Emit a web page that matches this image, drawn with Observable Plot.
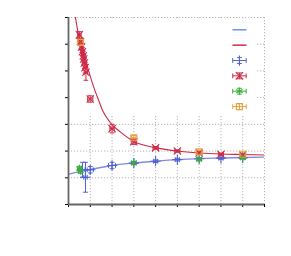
<!DOCTYPE html>
<html><head><meta charset="utf-8">
<script src="https://cdn.jsdelivr.net/npm/d3@7"></script>
<script src="https://cdn.jsdelivr.net/npm/@observablehq/plot@0.6"></script>
<style>html,body{margin:0;padding:0;background:#fff;overflow:hidden}</style>
</head><body><div id="chart"></div>
<script>
// ---- tick values (labels are blank in the reference) ----
const xTicks = [0,1,2,3,4,5,6,7,8,9];
const yTicks = [0,1,2,3,4,5,6,7];

// ---- fitted curves ----
const blueFitX = [0, 0.5, 1.0, 2.0, 3.0, 4.0, 5.0, 6.0, 7.0, 8.0, 9.0];
const blueFitY = [1.13, 1.23, 1.31, 1.46, 1.55, 1.62, 1.68, 1.72, 1.74, 1.76, 1.77];
const redFitX = [0.31, 0.46, 0.64, 0.83, 1.01, 1.19, 1.38, 1.56, 1.93, 2.39, 3.03, 4.04, 5.0, 6.01, 7.02, 8.03, 9.0];
const redFitY = [7.05, 6.35, 5.79, 5.26, 4.77, 4.32, 3.91, 3.53, 3.05, 2.71, 2.35, 2.12, 2.0, 1.93, 1.89, 1.87, 1.85];

// ---- measured series ----
const blueX  = [0.64, 0.78, 1.0, 2.0, 3.0, 4.0, 5.0, 6.0, 7.0, 8.0];
const blueY  = [1.30, 1.02, 1.30, 1.46, 1.55, 1.62, 1.68, 1.71, 1.73, 1.75];
const blueXE = [0.12, 0.08, 0.14, 0.16, 0.1, 0.1, 0.1, 0.1, 0.1, 0.1];
const blueYE = [0.28, 0.56, 0.12, 0.12, 0.05, 0.05, 0.05, 0.04, 0.04, 0.04];

const redX  = [0.5, 0.55, 0.6, 0.64, 0.68, 0.7, 0.73, 0.76, 0.8, 1.0, 2.0, 3.0, 4.0, 5.0, 6.0, 7.0, 8.0];
const redY  = [6.35, 6.1, 5.9, 5.72, 5.57, 5.45, 5.3, 5.12, 4.95, 3.95, 2.84, 2.35, 2.12, 2.0, 1.93, 1.88, 1.85];
const redXE = [0.08, 0.08, 0.08, 0.08, 0.08, 0.08, 0.08, 0.08, 0.08, 0.12, 0.1, 0.12, 0.12, 0.12, 0.12, 0.12, 0.12];
const redYE = [0.12, 0.12, 0.12, 0.15, 0.15, 0.15, 0.2, 0.2, 0.3, 0.12, 0.16, 0.1, 0.05, 0.04, 0.04, 0.04, 0.04];

const greenX  = [0.5, 0.55, 3.0, 6.0, 8.0];
const greenY  = [1.35, 1.25, 1.56, 1.69, 1.75];
const greenXE = [0.08, 0.08, 0.1, 0.1, 0.1];
const greenYE = [0.08, 0.08, 0.04, 0.05, 0.05];

const orangeX  = [0.55, 3.0, 6.0, 8.0];
const orangeY  = [6.07, 2.50, 1.97, 1.88];
const orangeXE = [0.08, 0.1, 0.1, 0.1];
const orangeYE = [0.08, 0.08, 0.06, 0.05];

// ---- styles ----
const BLUE = "#5062d4", BLUE_LINE = "#7d8ce2", RED = "#cc2a48", GREEN = "#38b038", ORANGE = "#e6a040";

const series = [
  {name: "blue",   color: BLUE,   symbol: "plus",     xs: blueX,   ys: blueY,   xe: blueXE,   ye: blueYE},
  {name: "red",    color: RED,    symbol: "times",    xs: redX,    ys: redY,    xe: redXE,    ye: redYE},
  {name: "green",  color: GREEN,  symbol: "asterisk", xs: greenX,  ys: greenY,  xe: greenXE,  ye: greenYE},
  {name: "orange", color: ORANGE, symbol: "square",   xs: orangeX, ys: orangeY, xe: orangeXE, ye: orangeYE}
];

const pts = series.flatMap(s => s.xs.map((x, i) => ({name: s.name, color: s.color, symbol: s.symbol, x, y: s.ys[i], xe: s.xe[i], ye: s.ye[i]})));
const blueFit = blueFitX.map((x, i) => ({x, y: blueFitY[i]}));
const redFit = redFitX.map((x, i) => ({x, y: redFitY[i]}));

// legend layout (in data units, inside the opaque key box)
const keyBox = {x1: 0, x2: 8.59, y1: 3.35, y2: 6.88};
const keyX1 = 7.53, keyX2 = 8.17, keyXc = 7.85, keyTop = 6.54, keyStep = 0.575;
const keyLines = [{color: BLUE_LINE, y: keyTop}, {color: RED, y: keyTop - keyStep}];
const keyPts = series.map((s, i) => ({color: s.color, symbol: s.symbol, x: keyXc, y: keyTop - (i + 2) * keyStep, xe: 0.31, ye: 0.11}));

const hcap = {draw(ctx, size) { const r = Math.sqrt(size / Math.PI); ctx.moveTo(-r, 0); ctx.lineTo(r, 0); }};
const vcap = {draw(ctx, size) { const r = Math.sqrt(size / Math.PI); ctx.moveTo(0, -r); ctx.lineTo(0, r); }};

function errMarks(data) {
  const sw = 1;
  return [
    Plot.link(data, {x1: d => d.x - d.xe, x2: d => d.x + d.xe, y1: "y", y2: "y", stroke: "color", strokeWidth: sw}),
    Plot.link(data, {x1: "x", x2: "x", y1: d => d.y - d.ye, y2: d => d.y + d.ye, stroke: "color", strokeWidth: sw}),
    Plot.dot(data, {x: "x", y: d => d.y - d.ye, symbol: hcap, r: 2.4, stroke: "color", strokeWidth: sw}),
    Plot.dot(data, {x: "x", y: d => d.y + d.ye, symbol: hcap, r: 2.4, stroke: "color", strokeWidth: sw}),
    Plot.dot(data, {x: d => d.x - d.xe, y: "y", symbol: vcap, r: 2.4, stroke: "color", strokeWidth: sw}),
    Plot.dot(data, {x: d => d.x + d.xe, y: "y", symbol: vcap, r: 2.4, stroke: "color", strokeWidth: sw}),
    Plot.dot(data, {x: "x", y: "y", symbol: "symbol", r: 3.4, stroke: "color", strokeWidth: 1.1, fill: "none"})
  ];
}

const chart = Plot.plot({
  width: 291, height: 256,
  marginLeft: 68, marginRight: 27, marginTop: 17, marginBottom: 52,
  style: {background: "#fff", overflow: "visible"},
  x: {domain: [0, 9], ticks: xTicks, tickSize: 3, tickFormat: () => "", label: null},
  y: {domain: [0, 7], ticks: yTicks, tickSize: 3, tickFormat: () => "", label: null},
  symbol: {type: "identity"},
  marks: [
    Plot.ruleX(xTicks, {stroke: "#b4b4b4", strokeDasharray: "1.2,1.8", strokeWidth: 1}),
    Plot.ruleY(yTicks, {stroke: "#b4b4b4", strokeDasharray: "1.2,1.8", strokeWidth: 1}),
    Plot.rect([keyBox], {x1: "x1", x2: "x2", y1: "y1", y2: "y2", fill: "#fff"}),
    Plot.line(blueFit, {x: "x", y: "y", stroke: BLUE_LINE, strokeWidth: 1.3, curve: "monotone-x", clip: true}),
    Plot.line(redFit, {x: "x", y: "y", stroke: RED, strokeWidth: 1.1, curve: "monotone-x", clip: true}),
    ...errMarks(pts),
    Plot.link(keyLines, {x1: () => keyX1, x2: () => keyX2, y1: "y", y2: "y", stroke: "color", strokeWidth: 1.5}),
    ...errMarks(keyPts),
    Plot.ruleX([0], {stroke: "#666", strokeWidth: 1.8}),
    Plot.ruleY([0], {stroke: "#666", strokeWidth: 1.8})
  ]
});
document.getElementById("chart").appendChild(chart);
</script>
</body></html>
